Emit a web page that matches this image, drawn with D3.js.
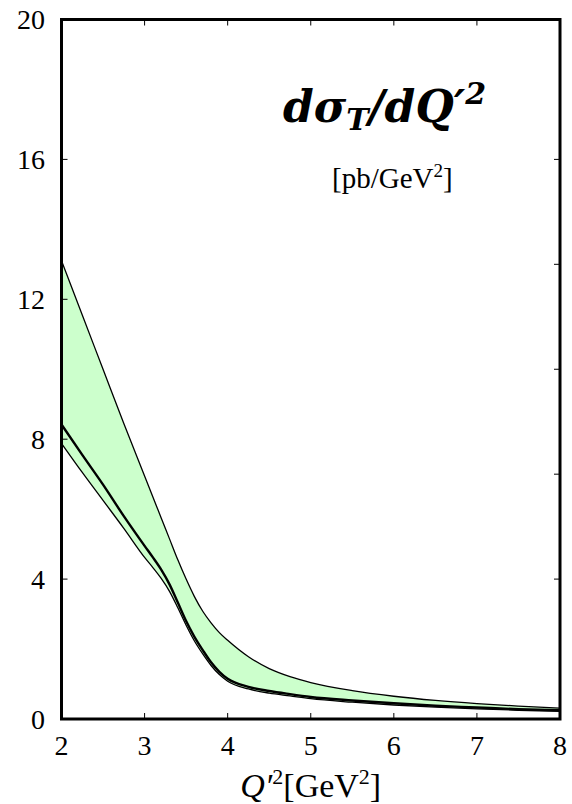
<!DOCTYPE html>
<html>
<head>
<meta charset="utf-8">
<script src="https://cdn.jsdelivr.net/npm/d3@7"></script>
<style>
	body { margin: 0; background: #fff; }
	svg { font-family: "Liberation Serif", "Times New Roman", serif; }
</style>
</head>
<body>
<script>
// Q'^2 sample points and the three curves (upper / central / lower)
const qValues = [2, 2.25, 2.5, 2.75, 3, 3.1, 3.2, 3.3, 3.4, 3.5, 3.6, 3.7, 3.8, 3.9, 4, 4.25, 4.5, 4.75, 5, 5.5, 6, 6.5, 7, 7.5, 8];
const upperValues = [13.1, 11.55, 10.0, 8.45, 6.95, 6.35, 5.75, 5.15, 4.55, 4.0, 3.5, 3.08, 2.75, 2.47, 2.25, 1.78, 1.44, 1.21, 1.04, 0.81, 0.65, 0.53, 0.44, 0.37, 0.31];
const centralValues = [8.42, 7.55, 6.7, 5.8, 4.95, 4.62, 4.27, 3.85, 3.33, 2.8, 2.35, 1.97, 1.62, 1.35, 1.15, 0.92, 0.8, 0.71, 0.63, 0.53, 0.45, 0.38, 0.33, 0.28, 0.25];
const lowerValues = [7.88, 7.05, 6.25, 5.45, 4.62, 4.33, 4.02, 3.65, 3.18, 2.68, 2.23, 1.86, 1.53, 1.27, 1.08, 0.86, 0.74, 0.66, 0.58, 0.48, 0.40, 0.34, 0.29, 0.25, 0.22];

const xTicks = [2, 3, 4, 5, 6, 7, 8];
const yTicks = [0, 4, 8, 12, 16, 20];
const yTicksRight = [4, 7, 10, 13, 16];

const width = 572;
const height = 804;
const plot = { left: 61.5, right: 560, top: 19.5, bottom: 719 };

const x = d3.scaleLinear().domain([2, 8]).range([plot.left, plot.right]);
const y = d3.scaleLinear().domain([0, 20]).range([plot.bottom, plot.top]);

const svg = d3.select("body")
	.append("svg")
	.attr("width", width)
	.attr("height", height);

svg.append("clipPath").attr("id", "clip")
	.append("rect")
	.attr("x", plot.left).attr("y", plot.top)
	.attr("width", plot.right - plot.left)
	.attr("height", plot.bottom - plot.top);

const data = qValues.map((q, i) => ({ q, up: upperValues[i], mid: centralValues[i], lo: lowerValues[i] }));
const curve = d3.curveMonotoneX;

const g = svg.append("g").attr("clip-path", "url(#clip)");

// banda verde
g.append("path")
	.datum(data)
	.attr("d", d3.area().x(d => x(d.q)).y0(d => y(d.lo)).y1(d => y(d.up)).curve(curve))
	.attr("fill", "#ccffcc");

const line = key => d3.line().x(d => x(d.q)).y(d => y(d[key])).curve(curve);

g.append("path").datum(data).attr("d", line("up"))
	.attr("fill", "none").attr("stroke", "#000").attr("stroke-width", 1.3);
g.append("path").datum(data).attr("d", line("lo"))
	.attr("fill", "none").attr("stroke", "#000").attr("stroke-width", 1.3);
g.append("path").datum(data).attr("d", line("mid"))
	.attr("fill", "none").attr("stroke", "#000").attr("stroke-width", 2.4);

// tick interni
const tickLen = 6;
xTicks.slice(1, -1).forEach(t => {
	svg.append("line")
		.attr("x1", x(t)).attr("x2", x(t))
		.attr("y1", plot.bottom).attr("y2", plot.bottom - tickLen)
		.attr("stroke", "#000").attr("stroke-width", 1);
	svg.append("line")
		.attr("x1", x(t)).attr("x2", x(t))
		.attr("y1", plot.top).attr("y2", plot.top + tickLen)
		.attr("stroke", "#000").attr("stroke-width", 1);
});
yTicks.slice(1, -1).forEach(t => {
	svg.append("line")
		.attr("x1", plot.left).attr("x2", plot.left + tickLen)
		.attr("y1", y(t)).attr("y2", y(t))
		.attr("stroke", "#000").attr("stroke-width", 1);
});
yTicksRight.forEach(t => {
	svg.append("line")
		.attr("x1", plot.right).attr("x2", plot.right - tickLen)
		.attr("y1", y(t)).attr("y2", y(t))
		.attr("stroke", "#000").attr("stroke-width", 1);
});

// cornice
svg.append("rect")
	.attr("x", plot.left).attr("y", plot.top)
	.attr("width", plot.right - plot.left)
	.attr("height", plot.bottom - plot.top)
	.attr("fill", "none").attr("stroke", "#000").attr("stroke-width", 3);

// etichette
svg.selectAll(".xl").data(xTicks).enter().append("text")
	.attr("x", d => x(d)).attr("y", 755)
	.attr("text-anchor", "middle").attr("font-size", 28)
	.text(d => d);

svg.selectAll(".yl").data(yTicks).enter().append("text")
	.attr("x", 45).attr("y", d => y(d) + 9.5)
	.attr("text-anchor", "end").attr("font-size", 28)
	.text(d => d);

const xLabel = svg.append("text")
	.attr("x", x(5)).attr("y", 797)
	.attr("text-anchor", "middle").attr("font-size", 34);
xLabel.append("tspan").attr("font-style", "italic").text("Q′");
xLabel.append("tspan").attr("font-size", 22).attr("dy", -13).text("2");
xLabel.append("tspan").attr("dy", 13).text("[GeV");
xLabel.append("tspan").attr("font-size", 22).attr("dy", -13).text("2");
xLabel.append("tspan").attr("dy", 13).text("]");

// titolo
const title = svg.append("text")
	.attr("x", 283).attr("y", 122)
	.style("font-family", "'DejaVu Serif', serif")
	.attr("font-size", 44).attr("font-weight", "bold").attr("font-style", "italic");
title.append("tspan").text("dσ");
title.append("tspan").attr("font-size", 30).attr("dy", 8).text("T");
title.append("tspan").attr("dy", -8).text("/dQ′");
title.append("tspan").attr("font-size", 30).attr("dy", -18).text("2");

const units = svg.append("text")
	.attr("x", 332).attr("y", 188)
	.attr("font-size", 29);
units.append("tspan").text("[pb/GeV");
units.append("tspan").attr("font-size", 19).attr("dy", -11).text("2");
units.append("tspan").attr("dy", 11).text("]");
</script>
</body>
</html>
